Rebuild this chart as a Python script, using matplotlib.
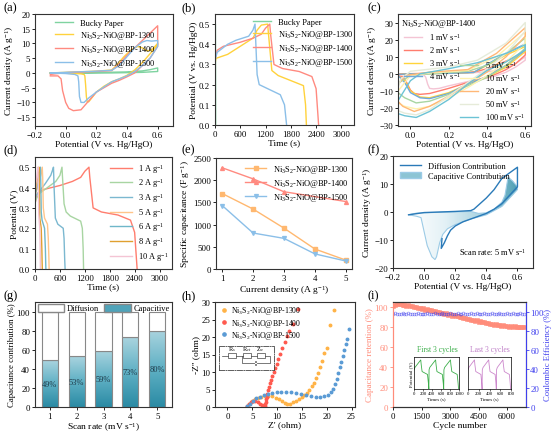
import numpy as np
import matplotlib
matplotlib.use('Agg')
import matplotlib.pyplot as plt
from matplotlib.lines import Line2D
from matplotlib.patches import Patch, Polygon, Rectangle
from matplotlib.colors import LinearSegmentedColormap

plt.rcParams['font.family'] = ['Liberation Serif', 'DejaVu Serif']
plt.rcParams['mathtext.fontset'] = 'custom'
plt.rcParams['mathtext.rm'] = 'Liberation Serif'
plt.rcParams['mathtext.it'] = 'Liberation Serif:italic'
plt.rcParams['axes.linewidth'] = 0.8

# ---------------- data ----------------
S1300 = r'Ni$_3$S$_2$-NiO@BP-1300'
S1400 = r'Ni$_3$S$_2$-NiO@BP-1400'
S1500 = r'Ni$_3$S$_2$-NiO@BP-1500'

# (a) CV at 5 mV/s
a_bp_x = [-0.1, 0.0, 0.1, 0.2, 0.3, 0.4, 0.5, 0.55, 0.6, 0.6, 0.5, 0.4, 0.3, 0.2, 0.1, 0.0, -0.1]
a_bp_y = [0.0, 0.1, 0.15, 0.2, 0.25, 0.35, 0.7, 1.1, 1.7, 0.5, 0.2, 0.1, 0.0, -0.05, -0.1, -0.1, -0.1]
a_1300_x = [-0.1, 0.0, 0.1, 0.2, 0.3, 0.33, 0.38, 0.43, 0.47, 0.5, 0.53, 0.56, 0.6, 0.6, 0.55, 0.5, 0.45,
            0.4, 0.35, 0.3, 0.25, 0.2, 0.17, 0.15, 0.14, 0.135, 0.13, 0.125, 0.12, 0.1, 0.0, -0.1]
a_1300_y = [0.0, 0.2, 0.4, 0.6, 1.0, 2.5, 5.5, 8.0, 9.0, 8.5, 7.5, 7.8, 10.0, 9.5, 6.5, 3.5, 1.0,
            -0.8, -2.0, -3.0, -4.5, -6.5, -8.5, -9.8, -9.8, -8.0, -4.0, -1.0, -0.5, -0.3, -0.1, 0.0]
a_1400_x = [-0.1, 0.0, 0.1, 0.2, 0.3, 0.35, 0.4, 0.45, 0.5, 0.55, 0.6, 0.6, 0.55, 0.5, 0.45, 0.4, 0.35,
            0.3, 0.2, 0.15, 0.1, 0.05, 0.02, 0.0, -0.02, -0.03, -0.05, -0.1]
a_1400_y = [-0.5, 0.1, 0.3, 0.5, 0.8, 3.0, 6.0, 8.5, 11.0, 13.5, 16.0, 9.0, 5.0, 2.5, 0.0, -1.3, -2.5,
            -3.5, -6.5, -9.5, -12.5, -12.8, -12.0, -10.0, -6.0, -2.0, -1.0, -1.0]
a_1500_x = [-0.1, 0.0, 0.1, 0.2, 0.3, 0.35, 0.4, 0.45, 0.5, 0.53, 0.56, 0.6, 0.6, 0.55, 0.5, 0.45, 0.4,
            0.3, 0.2, 0.15, 0.12, 0.1, 0.09, 0.085, 0.08, 0.06, 0.0, -0.1]
a_1500_y = [0.0, 0.2, 0.4, 0.6, 0.9, 2.5, 5.5, 8.5, 10.5, 11.0, 10.8, 11.0, 9.0, 5.0, 2.5, 0.5, -1.0,
            -3.0, -6.5, -8.5, -10.0, -10.0, -8.0, -3.0, -1.0, -0.5, -0.2, 0.0]

# (b) GCD at 1 A/g
b_bp_t = [0, 5, 10, 15]
b_bp_v = [0.0, 0.5, 0.5, 0.0]
b_1300_t = [0, 20, 300, 600, 900, 1000, 1100, 1250, 1270, 1350, 1500, 1800, 2100, 2150, 2170]
b_1300_v = [0.30, 0.33, 0.35, 0.39, 0.43, 0.47, 0.495, 0.5, 0.45, 0.27, 0.245, 0.22, 0.195, 0.1, 0.0]
b_1400_t = [0, 50, 200, 600, 900, 1100, 1200, 1300, 1320, 1400, 1600, 2000, 2300, 2400, 2460]
b_1400_v = [0.32, 0.37, 0.39, 0.41, 0.43, 0.45, 0.48, 0.5, 0.45, 0.30, 0.28, 0.265, 0.24, 0.18, 0.0]
b_1500_t = [0, 50, 300, 500, 800, 900, 950, 970, 1000, 1050, 1300, 1550, 1650, 1700]
b_1500_v = [0.32, 0.36, 0.40, 0.42, 0.44, 0.47, 0.5, 0.4, 0.25, 0.2, 0.175, 0.15, 0.1, 0.0]

# (c) CV of BP-1400 at scan rates
c_rates = ['1', '2', '3', '4', '5', '10', '20', '50', '100']
c_x = {
    '1': [-0.1, 0.0, 0.1, 0.2, 0.3, 0.35, 0.4, 0.45, 0.5, 0.55, 0.6, 0.6, 0.55, 0.5, 0.45, 0.4, 0.3, 0.2,
          0.15, 0.12, 0.1, 0.09, 0.08, 0.07, 0.0, -0.1],
    '2': [-0.1, 0.0, 0.1, 0.2, 0.3, 0.35, 0.4, 0.45, 0.5, 0.55, 0.6, 0.6, 0.55, 0.5, 0.45, 0.4, 0.3, 0.2,
          0.1, 0.05, 0.02, 0.0, -0.02, -0.04, -0.1],
    '3': [-0.1, 0.0, 0.2, 0.33, 0.4, 0.5, 0.6, 0.6, 0.5, 0.4, 0.3, 0.2, 0.1, 0.05, 0.0, -0.03, -0.06, -0.1],
    '4': [-0.1, 0.0, 0.2, 0.33, 0.4, 0.5, 0.6, 0.6, 0.5, 0.4, 0.3, 0.2, 0.1, 0.05, 0.0, -0.03, -0.06, -0.1],
    '5': [-0.1, 0.0, 0.1, 0.3, 0.4, 0.5, 0.6, 0.6, 0.5, 0.4, 0.3, 0.2, 0.1, 0.03, -0.03, -0.1],
    '10': [-0.1, 0.0, 0.1, 0.3, 0.45, 0.6, 0.6, 0.5, 0.4, 0.3, 0.2, 0.1, 0.03, -0.03, -0.1],
    '20': [-0.1, -0.03, 0.1, 0.3, 0.45, 0.6, 0.6, 0.5, 0.4, 0.3, 0.2, 0.1, 0.02, -0.04, -0.1],
    '50': [-0.1, -0.05, 0.0, 0.2, 0.35, 0.5, 0.6, 0.6, 0.5, 0.4, 0.3, 0.2, 0.1, 0.03, -0.03, -0.1],
    '100': [-0.1, 0.0, 0.05, 0.2, 0.35, 0.5, 0.6, 0.6, 0.5, 0.4, 0.3, 0.2, 0.1, 0.03, -0.03, -0.1],
}
c_y = {
    '1': [0.0, 0.1, 0.2, 0.3, 0.5, 0.8, 1.2, 2.0, 3.5, 6.0, 10.0, 8.0, 4.0, 1.0, -1.0, -2.5, -4.5, -7.0,
          -8.5, -8.8, -8.5, -6.0, -2.0, -0.5, -0.2, 0.0],
    '2': [-0.3, 0.1, 0.3, 0.5, 0.8, 1.5, 3.0, 5.0, 7.5, 10.0, 14.0, 11.0, 6.0, 2.5, 0.0, -2.0, -5.0, -8.5,
          -11.5, -12.0, -11.5, -9.5, -5.0, -1.5, -0.8],
    '3': [-0.5, 0.0, 0.3, 0.8, 5.0, 11.0, 16.0, 13.0, 4.0, -2.0, -6.0, -11.0, -14.0, -13.5, -10.0, -4.0, -1.5, -1.0],
    '4': [-0.5, 0.0, 0.3, 0.8, 5.5, 12.0, 17.5, 14.0, 5.0, -1.5, -6.0, -11.5, -14.5, -14.0, -11.0, -5.0, -1.5, -1.0],
    '5': [-8.0, -1.0, 0.0, 1.5, 5.0, 12.0, 21.0, 15.0, 5.0, -2.0, -7.0, -12.0, -16.0, -17.0, -14.0, -8.0],
    '10': [-15.0, -1.0, 0.5, 2.0, 10.0, 24.5, 18.0, 7.0, -1.0, -8.0, -14.0, -19.0, -20.5, -19.0, -15.0],
    '20': [-12.0, -1.0, 1.0, 2.5, 12.0, 27.0, 22.0, 10.0, 1.0, -6.0, -13.0, -19.0, -22.0, -19.0, -12.0],
    '50': [-20.0, -3.0, 1.5, 4.0, 8.0, 18.0, 30.0, 25.0, 12.0, 3.0, -5.0, -13.0, -21.0, -24.0, -23.0, -20.0],
    '100': [-22.0, -4.0, 0.0, 3.0, 6.5, 12.0, 17.0, 14.0, 7.0, 2.0, -6.0, -15.0, -22.0, -25.5, -24.5, -22.0],
}
c_colors = ['#f4c4d4', '#ff7d6e', '#ffd43b', '#6fa8dc', '#a8d5a2', '#fff1b0', '#ffb877', '#e6ebd9', '#6cc3d5']

# (d) GCD of BP-1400 at current densities
d_labels = ['1', '2', '3', '5', '6', '8', '10']
d_t = {
    '1': b_1400_t,
    '2': [0, 20, 100, 300, 500, 600, 650, 660, 700, 750, 850, 1100, 1140, 1160, 1170],
    '3': [0, 20, 100, 250, 380, 430, 445, 460, 490, 550, 680, 700, 715, 725],
    '5': [0, 10, 60, 140, 175, 185, 200, 230, 300, 320, 335, 340],
    '6': [0, 10, 50, 110, 130, 140, 150, 170, 230, 250, 258, 262],
    '8': [0, 5, 30, 80, 95, 105, 115, 150, 165, 172, 176],
    '10': [0, 5, 20, 60, 70, 80, 90, 115, 125, 130],
}
d_v = {
    '1': b_1400_v,
    '2': [0.32, 0.34, 0.37, 0.40, 0.43, 0.46, 0.5, 0.46, 0.32, 0.28, 0.26, 0.235, 0.2, 0.1, 0.0],
    '3': [0.33, 0.36, 0.38, 0.42, 0.46, 0.49, 0.5, 0.4, 0.25, 0.22, 0.2, 0.15, 0.05, 0.0],
    '5': [0.34, 0.37, 0.40, 0.46, 0.5, 0.45, 0.3, 0.25, 0.22, 0.15, 0.05, 0.0],
    '6': [0.34, 0.37, 0.40, 0.46, 0.5, 0.42, 0.28, 0.24, 0.2, 0.1, 0.03, 0.0],
    '8': [0.34, 0.37, 0.41, 0.47, 0.5, 0.4, 0.25, 0.2, 0.1, 0.03, 0.0],
    '10': [0.35, 0.38, 0.42, 0.48, 0.5, 0.4, 0.27, 0.2, 0.1, 0.0],
}
d_colors = ['#ff7d6e', '#a8d5a2', '#7bb8d0', '#ffc58a', '#6fb7c9', '#e0a030', '#f4c4d4']

# (e) specific capacitance
e_current = [1, 2, 3, 4, 5]
e_1300 = [1700, 1350, 920, 450, 200]
e_1400_current = [1, 2, 3, 5]
e_1400 = [2280, 2030, 1740, 1520]
e_1500 = [1430, 810, 690, 340, 180]

# (f) capacitive vs diffusion at 5 mV/s
f_cv_x = [-0.1, 0.0, 0.1, 0.2, 0.3, 0.32, 0.36, 0.4, 0.45, 0.5, 0.55, 0.6, 0.6, 0.55, 0.5, 0.45, 0.4,
          0.35, 0.3, 0.25, 0.2, 0.17, 0.15, 0.13, 0.11, 0.115]
f_cv_y = [-1.0, -0.2, 0.0, 0.2, 0.5, 1.0, 3.0, 5.0, 8.0, 12.0, 14.0, 16.0, 9.0, 6.0, 3.0, 1.0, -0.5,
          -1.5, -2.5, -3.5, -5.0, -6.5, -8.5, -11.0, -13.0, -9.5]
f_cap_x = [-0.1, -0.05, 0.1, 0.3, 0.35, 0.4, 0.45, 0.5, 0.52, 0.54, 0.57, 0.6, 0.6, 0.55, 0.5, 0.45,
           0.4, 0.3, 0.2, 0.15, 0.12, 0.1, 0.08, 0.07, 0.05, 0.02, 0.0, -0.02, -0.05, -0.1]
f_cap_y = [-1.0, -0.4, -0.1, 0.2, -0.5, -0.3, 1.0, 3.5, 6.0, 12.5, 11.0, 9.0, 8.0, 5.0, 2.0, 0.5,
           -1.0, -2.5, -4.5, -6.0, -8.0, -11.0, -16.0, -17.0, -16.0, -12.0, -7.0, -2.0, -1.5, -1.0]

# (g) capacitive contribution
g_rate = [1, 2, 3, 4, 5]
g_cap = [49, 53, 59, 73, 80]

# (h) Nyquist
h_1300_x = [4.0, 4.4, 4.9, 5.5, 6.1, 6.8, 7.5, 8.2, 9.0, 9.7, 10.4, 11.0, 11.6, 12.1, 12.6, 13.2, 13.8,
            14.4, 15.0, 15.5, 16.0, 16.5, 17.0, 17.4, 17.8, 18.2, 18.6, 19.0, 19.5, 20.0, 20.7, 21.5]
h_1300_y = [0.1, 0.9, 1.6, 2.2, 2.7, 3.0, 3.2, 3.2, 3.1, 2.7, 2.2, 1.6, 1.1, 0.8, 0.9, 1.3, 1.8,
            2.3, 2.8, 3.4, 4.1, 4.9, 5.9, 7.0, 8.3, 9.8, 11.4, 13.2, 15.5, 17.0, 23.4, 27.8]
h_1400_x = [4.0, 4.3, 4.7, 5.1, 5.6, 6.1, 6.6, 7.0, 7.3, 7.5, 7.6, 7.7, 7.8, 7.9, 8.0, 8.2, 8.4, 8.6,
            8.8, 9.0, 9.3, 9.6, 9.9, 10.2, 10.6, 11.0, 11.5, 12.0, 12.5, 13.2, 14.3]
h_1400_y = [0.2, 0.8, 1.3, 1.6, 1.7, 1.5, 1.0, 0.5, 0.2, 0.3, 0.8, 1.5, 2.3, 3.0, 3.8, 4.8, 5.8, 6.8,
            7.8, 8.8, 10.0, 11.2, 12.4, 13.6, 15.2, 16.8, 18.5, 20.2, 21.8, 23.8, 28.0]
h_1500_x = [4.0, 4.5, 5.1, 5.8, 6.5, 7.3, 8.1, 9.0, 9.9, 10.8, 11.8, 12.8, 13.8, 14.8, 15.8, 16.8,
            17.8, 18.7, 19.5, 20.2, 20.8, 21.3, 21.7, 22.0, 22.3, 22.6, 22.9, 23.2, 23.5, 23.8, 24.1, 24.5]
h_1500_y = [0.2, 1.0, 1.8, 2.5, 3.0, 3.5, 3.8, 4.1, 4.3, 4.3, 4.3, 4.2, 4.0, 3.7, 3.4, 3.1,
            2.9, 2.9, 3.1, 3.5, 4.2, 5.2, 6.5, 8.0, 9.6, 11.3, 12.9, 14.6, 16.2, 17.9, 19.5, 22.3]

# (i) cycling stability
i_cycles = np.arange(0, 7000, 100)
i_retention = [101.0, 102.5, 103.2, 102.8, 103.0, 102.0, 102.4, 101.5, 101.8, 100.6,
               100.9, 99.8, 100.2, 98.9, 99.3, 98.2, 98.6, 97.5, 97.9, 96.6,
               97.0, 95.8, 96.1, 94.9, 95.3, 94.0, 94.5, 93.2, 93.6, 92.3,
               92.7, 91.4, 91.9, 90.6, 91.0, 89.7, 90.1, 88.9, 89.3, 88.0,
               88.4, 87.1, 87.5, 86.3, 86.8, 85.5, 85.9, 84.6, 85.1, 83.9,
               84.3, 83.1, 83.5, 82.3, 82.8, 81.6, 82.0, 81.1, 81.7, 80.6,
               81.3, 80.4, 81.0, 80.2, 80.8, 79.9, 80.5, 79.7, 80.3, 79.8]
i_ce = [97.0, 98.2, 97.5, 97.8, 97.2, 98.0, 97.6, 97.4, 98.3, 97.7,
        97.5, 97.9, 97.3, 98.1, 97.6, 97.8, 97.2, 97.9, 98.4, 97.5,
        97.7, 97.3, 98.0, 97.6, 97.9, 97.4, 98.2, 97.7, 97.5, 97.9,
        98.5, 97.6, 97.8, 97.3, 98.1, 97.7, 97.5, 98.3, 97.6, 97.9,
        97.4, 98.0, 97.7, 97.5, 98.2, 97.8, 97.3, 97.9, 98.4, 97.6,
        97.7, 97.4, 98.1, 97.8, 97.5, 97.9, 98.3, 97.6, 97.7, 97.4,
        98.0, 97.8, 97.5, 98.2, 97.6, 97.9, 97.4, 98.0, 97.7, 97.6]
i_first_t = [0, 20, 150, 160, 180, 300, 320, 330, 335, 350, 480, 490, 510, 630, 650, 660,
             665, 680, 810, 820, 840, 960, 980, 990]
i_first_v = [0.33, 0.37, 0.5, 0.42, 0.30, 0.25, 0.1, 0.0, 0.33, 0.37, 0.5, 0.42, 0.30, 0.25, 0.1, 0.0,
             0.33, 0.37, 0.5, 0.42, 0.30, 0.25, 0.1, 0.0]
i_last_t = [0, 15, 120, 128, 145, 240, 255, 262, 266, 280, 385, 393, 410, 505, 520, 527,
            531, 545, 650, 658, 675, 770, 785, 792]
i_last_v = [0.33, 0.37, 0.5, 0.42, 0.30, 0.25, 0.1, 0.0, 0.33, 0.37, 0.5, 0.42, 0.30, 0.25, 0.1, 0.0,
            0.33, 0.37, 0.5, 0.42, 0.30, 0.25, 0.1, 0.0]

# ---------------- drawing ----------------
W, H = 554, 435
fig = plt.figure(figsize=(W / 100, H / 100), dpi=100)


def px_axes(x0, y0, x1, y1):
    return fig.add_axes([x0 / W, 1 - y1 / H, (x1 - x0) / W, (y1 - y0) / H])


def style(ax):
    ax.tick_params(direction='out', length=2.5, width=0.6, labelsize=6.3, pad=1.0)
    for s in ax.spines.values():
        s.set_linewidth(0.8)
        s.set_color('#333333')


LS = 6.8
LEGFS = 6
lw = 1.0
col_bp, col_1300, col_1400, col_1500 = '#7fd3a0', '#ffd23c', '#ff8a80', '#8bbfe8'

# (a)
ax = px_axes(35, 15, 173, 127)
ax.plot(a_bp_x, a_bp_y, color=col_bp, lw=lw, label='Bucky Paper')
ax.plot(a_1300_x, a_1300_y, color=col_1300, lw=lw, label=S1300)
ax.plot(a_1400_x, a_1400_y, color=col_1400, lw=lw, label=S1400)
ax.plot(a_1500_x, a_1500_y, color=col_1500, lw=lw, label=S1500)
ax.set_xlim(-0.2, 0.7)
ax.set_ylim(-18, 20)
ax.set_xticks([-0.2, 0.0, 0.2, 0.4, 0.6])
ax.set_yticks([-15, -10, -5, 0, 5, 10, 15, 20])
ax.set_xlabel('Potential (V vs. Hg/HgO)', fontsize=LS, labelpad=0.5)
ax.set_ylabel(r'Current density (A g$^{-1}$)', fontsize=LS, labelpad=0.5)
ax.legend(loc='upper left', bbox_to_anchor=(0.1, 1.01), fontsize=LEGFS, frameon=False,
          handlelength=2.2, labelspacing=0.25, borderpad=0.2)
style(ax)

# (b)
ax = px_axes(215, 15, 354, 126)
ax.plot(b_bp_t, b_bp_v, color=col_bp, lw=lw, label='Bucky Paper')
ax.plot(b_1300_t, b_1300_v, color=col_1300, lw=lw, label=S1300)
ax.plot(b_1400_t, b_1400_v, color=col_1400, lw=lw, label=S1400)
ax.plot(b_1500_t, b_1500_v, color=col_1500, lw=lw, label=S1500)
ax.set_xlim(0, 3300)
ax.set_ylim(0, 0.55)
ax.set_xticks([0, 600, 1200, 1800, 2400, 3000])
ax.set_yticks([0.0, 0.1, 0.2, 0.3, 0.4, 0.5])
ax.set_xlabel('Time (s)', fontsize=LS, labelpad=0.5)
ax.set_ylabel('Potential (V vs. Hg/HgO)', fontsize=LS, labelpad=0.5)
ax.legend(loc='upper right', bbox_to_anchor=(1.04, 1.02), fontsize=LEGFS, frameon=False,
          handlelength=2.2, labelspacing=0.25, borderpad=0.2)
style(ax)

# (c)
ax = px_axes(398, 15, 531, 127)
handles = []
for r, c in zip(c_rates, c_colors):
    h, = ax.plot(c_x[r], c_y[r], color=c, lw=lw, label=r + r' mV s$^{-1}$')
    handles.append(h)
ax.set_xlim(-0.065, 0.63)
ax.set_ylim(-30.5, 35)
ax.set_xticks([0.0, 0.2, 0.4, 0.6])
ax.set_yticks([-30, -20, -10, 0, 10, 20, 30])
ax.set_xlabel('Potential (V vs. Hg/HgO)', fontsize=LS, labelpad=0.5)
ax.set_ylabel(r'Current density (A g$^{-1}$)', fontsize=LS, labelpad=0.5)
ax.text(0.02, 0.97, S1400, transform=ax.transAxes, fontsize=LEGFS, va='top', ha='left')
leg1 = ax.legend(handles=handles[:4], loc='upper left', bbox_to_anchor=(0.0, 0.9), fontsize=LEGFS,
                 frameon=False, handlelength=2.2, labelspacing=0.25, borderpad=0.2)
ax.add_artist(leg1)
ax.legend(handles=handles[4:], loc='lower right', bbox_to_anchor=(1.0, -0.02), fontsize=LEGFS,
          frameon=False, handlelength=2.2, labelspacing=0.25, borderpad=0.2)
style(ax)

# (d)
ax = px_axes(35, 158, 172, 270)
for k, c in zip(d_labels, d_colors):
    ax.plot(d_t[k], d_v[k], color=c, lw=lw, label=k + r' A g$^{-1}$')
ax.set_xlim(0, 3300)
ax.set_ylim(0, 0.55)
ax.set_xticks([0, 600, 1200, 1800, 2400, 3000])
ax.set_yticks([0.0, 0.1, 0.2, 0.3, 0.4, 0.5])
ax.set_xlabel('Time (s)', fontsize=LS, labelpad=0.5)
ax.set_ylabel('Potential (V)', fontsize=LS, labelpad=0.5)
ax.legend(loc='upper right', bbox_to_anchor=(1.02, 1.01), fontsize=LEGFS, frameon=False,
          handlelength=2.6, labelspacing=0.2, borderpad=0.2)
style(ax)

# (e)
ax = px_axes(216, 159, 352, 270)
ax.plot(e_current, e_1300, color='#ffb870', lw=lw, marker='s', ms=2.5, label=S1300)
ax.plot(e_1400_current, e_1400, color='#ff8a80', lw=lw, marker='^', ms=2.8, label=S1400)
ax.plot(e_current, e_1500, color='#8bbfe8', lw=lw, marker='v', ms=2.8, label=S1500)
ax.set_xlim(0.8, 5.2)
ax.set_ylim(0, 2500)
ax.set_xticks([1, 2, 3, 4, 5])
ax.set_yticks([0, 500, 1000, 1500, 2000, 2500])
ax.set_xlabel(r'Current density (A g$^{-1}$)', fontsize=LS, labelpad=0.5)
ax.set_ylabel(r'Specific capacitance (F g$^{-1}$)', fontsize=LS, labelpad=0.5)
ax.legend(loc='upper right', bbox_to_anchor=(1.02, 1.01), fontsize=LEGFS, frameon=False,
          handlelength=2.6, labelspacing=0.25, borderpad=0.2)
style(ax)

# (f)
ax = px_axes(393, 157, 533, 269)
cap_cmap = LinearSegmentedColormap.from_list('cap', ['#ffffff', '#e3f1f6', '#a9d3e0', '#4e9fb4'])
poly = Polygon(np.column_stack([f_cap_x, f_cap_y]), closed=True, facecolor='none',
               edgecolor='#9ccbe6', lw=0.8, zorder=3)
ax.add_patch(poly)
grad = np.linspace(0, 1, 256).reshape(1, -1)
im = ax.imshow(grad, extent=(-0.1, 0.6, -18, 14), cmap=cap_cmap, aspect='auto', zorder=2)
im.set_clip_path(poly)
ax.plot(f_cv_x, f_cv_y, color='#2a7ab8', lw=1.0, zorder=4)
ax.set_xlim(-0.2, 0.7)
ax.set_ylim(-20, 20)
ax.set_xticks([-0.2, 0.0, 0.2, 0.4, 0.6])
ax.set_yticks([-20, -10, 0, 10, 20])
ax.set_xlabel('Potential (V vs. Hg/HgO)', fontsize=LS, labelpad=0.5)
ax.set_ylabel(r'Current density (A g$^{-1}$)', fontsize=LS, labelpad=0.5)
ax.legend([Line2D([0], [0], color='#2a7ab8', lw=1.0),
           Patch(facecolor='#8cc4d4', edgecolor='#9ccbe6')],
          ['Diffusion Contribution', 'Capacitive Contribution'],
          loc='upper left', bbox_to_anchor=(0.0, 1.01), fontsize=LEGFS, frameon=False,
          handlelength=2.6, labelspacing=0.25, borderpad=0.3)
ax.text(0.95, 0.1, r'Scan rate: 5 mV s$^{-1}$', transform=ax.transAxes, fontsize=LEGFS,
        ha='right', va='bottom')
style(ax)

# (g)
ax = px_axes(35, 303, 172, 408)
bar_cmap = LinearSegmentedColormap.from_list('bar', ['#2a8aa4', '#5fb0c4', '#aad4df'])
vgrad = np.linspace(0, 1, 256).reshape(-1, 1)
bw = 0.6
for x, v in zip(g_rate, g_cap):
    ax.imshow(vgrad, extent=(x - bw / 2, x + bw / 2, 0, v), origin='lower', cmap=bar_cmap,
              aspect='auto', zorder=2)
    ax.text(x, v / 2, '%d%%' % v, ha='center', va='center', fontsize=6, color='#1f3b4a', zorder=4)
ax.bar(g_rate, g_cap, width=bw, fill=False, edgecolor='#888888', lw=0.8, zorder=3)
ax.bar(g_rate, [100 - v for v in g_cap], bottom=g_cap, width=bw, color='white',
       edgecolor='#888888', lw=0.8, zorder=3)
ax.set_xlim(0.45, 5.55)
ax.set_ylim(0, 110)
ax.set_xticks(g_rate)
ax.set_yticks([0, 20, 40, 60, 80, 100])
ax.set_xlabel(r'Scan rate (mV s$^{-1}$)', fontsize=LS, labelpad=0.5)
ax.set_ylabel('Capacitance contribution (%)', fontsize=6.3, labelpad=0.5)
ax.legend([Patch(facecolor='white', edgecolor='#888888'), Patch(facecolor='#4fa3b9', edgecolor='#888888')],
          ['Diffusion', 'Capacitive'], loc='upper center', bbox_to_anchor=(0.5, 1.04), ncol=2,
          fontsize=LEGFS, frameon=False, handlelength=3.2, handleheight=1.1, columnspacing=0.6,
          handletextpad=0.3, borderpad=0.2)
style(ax)

# (h)
ax = px_axes(215, 303, 355, 408)
ax.plot(h_1300_x, h_1300_y, 'o', color='#ffb347', ms=1.8, label=S1300)
ax.plot(h_1400_x, h_1400_y, 'o', color='#ff5a4f', ms=1.8, label=S1400)
ax.plot(h_1500_x, h_1500_y, 'o', color='#5b9bd5', ms=1.8, label=S1500)
ax.set_xlim(-2.5, 25.7)
ax.set_ylim(0, 30)
ax.set_xticks([0, 5, 10, 15, 20, 25])
ax.set_yticks([0, 5, 10, 15, 20, 25, 30])
ax.set_xlabel("Z' (ohm)", fontsize=LS, labelpad=0.5)
ax.set_ylabel("-Z'' (ohm)", fontsize=LS, labelpad=0.5)
ax.legend(loc='upper left', bbox_to_anchor=(0.0, 1.03), fontsize=5.6, frameon=False,
          handlelength=1.0, labelspacing=0.05, borderpad=0.2, markerscale=1.3, handletextpad=0.4)
style(ax)
# equivalent circuit inset
cax = fig.add_axes([219 / W, 1 - 371 / H, 55 / W, 24 / H])
cax.set_xlim(0, 10)
cax.set_ylim(0, 5)
cax.set_xticks([])
cax.set_yticks([])
for s in cax.spines.values():
    s.set_linestyle('-.')
    s.set_linewidth(0.6)
    s.set_color('#444444')
cax.plot([0.5, 1.6], [3, 3], color='#444444', lw=0.5)
cax.plot([3.0, 4.4], [3, 3], color='#444444', lw=0.5)
cax.plot([5.8, 6.9], [3, 3], color='#444444', lw=0.5)
cax.plot([8.3, 9.3, 9.3, 4.1, 4.1], [3, 3, 1.5, 1.5, 3], color='#444444', lw=0.5)
for x0, x1, lab in [(1.6, 3.0, r'R$_s$'), (4.4, 5.8, r'R$_{ct}$'), (6.9, 8.3, r'Z$_w$')]:
    cax.add_patch(Rectangle((x0, 2.5), x1 - x0, 1.0, fill=False, edgecolor='#444444', lw=0.5))
    cax.text((x0 + x1) / 2, 3.6, lab, fontsize=4.5, ha='center', va='bottom')
cax.plot([6.5, 6.5], [1.1, 1.9], color='#444444', lw=0.5)
cax.plot([6.8, 6.8], [1.1, 1.9], color='#444444', lw=0.5)
cax.plot([6.5, 6.8], [1.5, 1.5], color='white', lw=0.8)

# (i)
ax = px_axes(393, 303, 526, 408)
ret_col = '#ff8c7a'
ce_col = '#4040ee'
ax.plot(i_cycles, i_retention, 's', color=ret_col, ms=2.4, mew=0.4, alpha=0.9)
ax.set_xlim(0, 7000)
ax.set_ylim(0, 105)
ax.set_xticks([0, 1500, 3000, 4500, 6000])
ax.set_yticks([0, 20, 40, 60, 80, 100])
ax.set_xlabel('Cycle number', fontsize=LS, labelpad=0.5)
ax.set_ylabel('Capacitance retention (%)', fontsize=6.5, labelpad=0.5, color=ret_col)
style(ax)
ax.tick_params(axis='y', colors=ret_col)
ax.spines['left'].set_color(ret_col)
ax2 = ax.twinx()
ax2.plot(i_cycles, i_ce, 'o', color=ce_col, ms=2.0, mfc='none', mew=0.5, alpha=0.6)
ax2.set_ylim(0, 110)
ax2.set_yticks([0, 20, 40, 60, 80, 100])
style(ax2)
ax2.tick_params(axis='y', colors=ce_col, pad=0.5)
ax2.set_ylabel('Coulombic Efficiency (%)', fontsize=6.2, labelpad=0.5, color=ce_col)
ax2.spines['right'].set_color(ce_col)
ax2.spines['left'].set_color(ret_col)

ins1 = fig.add_axes([414 / W, 1 - 390 / H, 45 / W, 32 / H])
ins1.plot(i_first_t, i_first_v, color='#3cae4a', lw=0.6)
ins1.set_xlim(0, 1000)
ins1.set_ylim(0, 0.55)
ins1.set_xticks([0, 200, 400, 600, 800, 1000])
ins1.set_yticks([])
ins1.tick_params(labelsize=3.5, length=1.2, width=0.4, pad=0.5)
ins1.set_xlabel('Times (s)', fontsize=3.5, labelpad=0.5)
ins1.set_ylabel('Potential (V)', fontsize=3.5, labelpad=1)
for s in ins1.spines.values():
    s.set_linewidth(0.5)
fig.text(437 / W, 1 - 350 / H, 'First 3 cycles', color='#3cae4a', fontsize=5.5, ha='center', va='center')

ins2 = fig.add_axes([468 / W, 1 - 390 / H, 43 / W, 32 / H])
ins2.plot(i_last_t, i_last_v, color='#cc88cc', lw=0.6)
ins2.set_xlim(0, 800)
ins2.set_ylim(0, 0.55)
ins2.set_xticks([0, 200, 400, 600, 800])
ins2.set_yticks([])
ins2.tick_params(labelsize=3.5, length=1.2, width=0.4, pad=0.5)
ins2.set_xlabel('Times (s)', fontsize=3.5, labelpad=0.5)
for s in ins2.spines.values():
    s.set_linewidth(0.5)
fig.text(490 / W, 1 - 350 / H, 'Last 3 cycles', color='#c080c8', fontsize=5.5, ha='center', va='center')

# panel letters
for lab, x, y in [('(a)', 4, 8), ('(b)', 182, 8), ('(c)', 368, 8),
                  ('(d)', 3, 150), ('(e)', 182, 150), ('(f)', 368, 150),
                  ('(g)', 3, 296), ('(h)', 182, 296), ('(i)', 368, 296)]:
    fig.text(x / W, 1 - y / H, lab, fontsize=9, ha='left', va='center')

fig.savefig('out.png', dpi=100)
